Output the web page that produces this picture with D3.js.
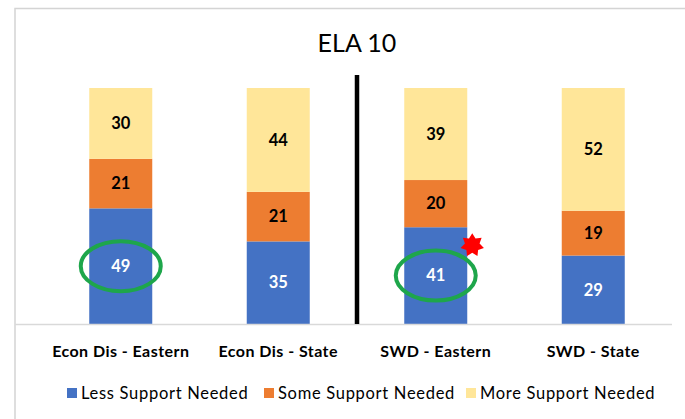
<!DOCTYPE html>
<html>
<head>
<meta charset="utf-8">
<script src="https://cdn.jsdelivr.net/npm/d3@7"></script>
<style>
  body { margin: 0; background: #fff; }
  text { font-family: Lato, "Open Sans", sans-serif; }
</style>
</head>
<body>
<div id="chart"></div>
<script>
var categories = ["Econ Dis - Eastern", "Econ Dis - State", "SWD - Eastern", "SWD - State"];
var seriesNames = ["Less Support Needed", "Some Support Needed", "More Support Needed"];
var lessSupport = [49, 35, 41, 29];
var someSupport = [21, 21, 20, 19];
var moreSupport = [30, 44, 39, 52];
var circled = ["Econ Dis - Eastern", "SWD - Eastern"];
var starred = ["SWD - Eastern"];

var colors = ["#4472c4", "#ed7d31", "#ffe699"];
var labelColors = ["#fff", "#000", "#000"];

var width = 685, height = 419;

var svg = d3.select("#chart")
  .append("svg")
    .attr("width", width)
    .attr("height", height);

// outer frame of the pasted chart
svg.append("path")
  .attr("d", "M15,420 V8.5 H690")
  .attr("fill", "none")
  .attr("stroke", "#d4d4d4")
  .attr("stroke-width", 1.5);

var data = categories.map(function(c, i) {
  return { cat: c, less: lessSupport[i], some: someSupport[i], more: moreSupport[i] };
});
var keys = ["less", "some", "more"];
var stacked = d3.stack().keys(keys)(data);

var x = d3.scaleBand()
  .domain(categories)
  .range([42, 672])
  .paddingInner(0.6)
  .paddingOuter(0.3);

var y = d3.scaleLinear()
  .domain([0, 100])
  .range([324, 88]);

// title
svg.append("text")
  .attr("x", 357)
  .attr("y", 52)
  .attr("text-anchor", "middle")
  .attr("font-size", 25)
  .attr("fill", "#000")
  .text("ELA 10");

// stacked bars
var layer = svg.selectAll("g.layer")
  .data(stacked)
  .enter().append("g")
    .attr("class", "layer")
    .attr("fill", function(d, i) { return colors[i]; });

layer.selectAll("rect")
  .data(function(d) { return d; })
  .enter().append("rect")
    .attr("x", function(d) { return x(d.data.cat); })
    .attr("y", function(d) { return y(d[1]); })
    .attr("width", x.bandwidth())
    .attr("height", function(d) { return y(d[0]) - y(d[1]); });

// value labels
stacked.forEach(function(s, i) {
  svg.selectAll("text.val" + i)
    .data(s)
    .enter().append("text")
      .attr("class", "val" + i)
      .attr("x", function(d) { return x(d.data.cat) + x.bandwidth() / 2; })
      .attr("y", function(d) { return (y(d[0]) + y(d[1])) / 2; })
      .attr("dy", "0.35em")
      .attr("text-anchor", "middle")
      .attr("font-size", 16.5)
      .attr("font-weight", "bold")
      .attr("fill", labelColors[i])
      .text(function(d) { return d[1] - d[0]; });
});

// baseline
svg.append("line")
  .attr("x1", 15)
  .attr("x2", 672)
  .attr("y1", y(0) + 0.5)
  .attr("y2", y(0) + 0.5)
  .attr("stroke", "#d9d9d9")
  .attr("stroke-width", 1.5);

// x axis labels
svg.selectAll("text.cat")
  .data(categories)
  .enter().append("text")
    .attr("class", "cat")
    .attr("x", function(d) { return x(d) + x.bandwidth() / 2; })
    .attr("y", 357)
    .attr("text-anchor", "middle")
    .attr("font-size", 16)
    .attr("font-weight", "bold")
    .attr("letter-spacing", 0.45)
    .attr("fill", "#000")
    .text(function(d) { return d; });

// divider between the Econ Dis and SWD groups
var divX = (x(categories[1]) + x.bandwidth() + x(categories[2])) / 2;
svg.append("line")
  .attr("x1", divX)
  .attr("x2", divX)
  .attr("y1", 75)
  .attr("y2", y(0))
  .attr("stroke", "#000")
  .attr("stroke-width", 4.5);

// green highlight ellipses around the "less support" values
svg.selectAll("ellipse.mark")
  .data(stacked[0].filter(function(d) { return circled.indexOf(d.data.cat) >= 0; }))
  .enter().append("ellipse")
    .attr("class", "mark")
    .attr("cx", function(d) { return x(d.data.cat) + x.bandwidth() / 2; })
    .attr("cy", function(d) { return (y(d[0]) + y(d[1])) / 2; })
    .attr("rx", 40)
    .attr("ry", 25)
    .attr("fill", "none")
    .attr("stroke", "#1ea64b")
    .attr("stroke-width", 4);

// red star at the top right corner of the blue segment
function starPath(n, r1, r2) {
  var pts = [];
  for (var k = 0; k < n * 2; k++) {
    var r = k % 2 === 0 ? r1 : r2;
    var a = Math.PI * k / n - Math.PI / 2;
    pts.push([r * Math.cos(a), r * Math.sin(a)]);
  }
  return d3.line()(pts) + "Z";
}
svg.selectAll("path.star")
  .data(stacked[0].filter(function(d) { return starred.indexOf(d.data.cat) >= 0; }))
  .enter().append("path")
    .attr("class", "star")
    .attr("d", starPath(7, 12, 7.5))
    .attr("transform", function(d) {
      return "translate(" + (x(d.data.cat) + x.bandwidth() + 5) + "," + (y(d[1]) + 18) + ")";
    })
    .attr("fill", "#ff0000");

// legend
var legendX = [67, 264, 466];
var legend = svg.selectAll("g.legend")
  .data(seriesNames)
  .enter().append("g")
    .attr("class", "legend")
    .attr("transform", function(d, i) { return "translate(" + legendX[i] + ",393)"; });

legend.append("rect")
  .attr("x", 0)
  .attr("y", -5)
  .attr("width", 10)
  .attr("height", 10)
  .attr("fill", function(d, i) { return colors[i]; });

legend.append("text")
  .attr("x", 14)
  .attr("y", 0)
  .attr("dy", "0.35em")
  .attr("font-size", 16.5)
  .attr("fill", "#000")
  .attr("letter-spacing", 0.7)
  .text(function(d) { return d; });
</script>
</body>
</html>
